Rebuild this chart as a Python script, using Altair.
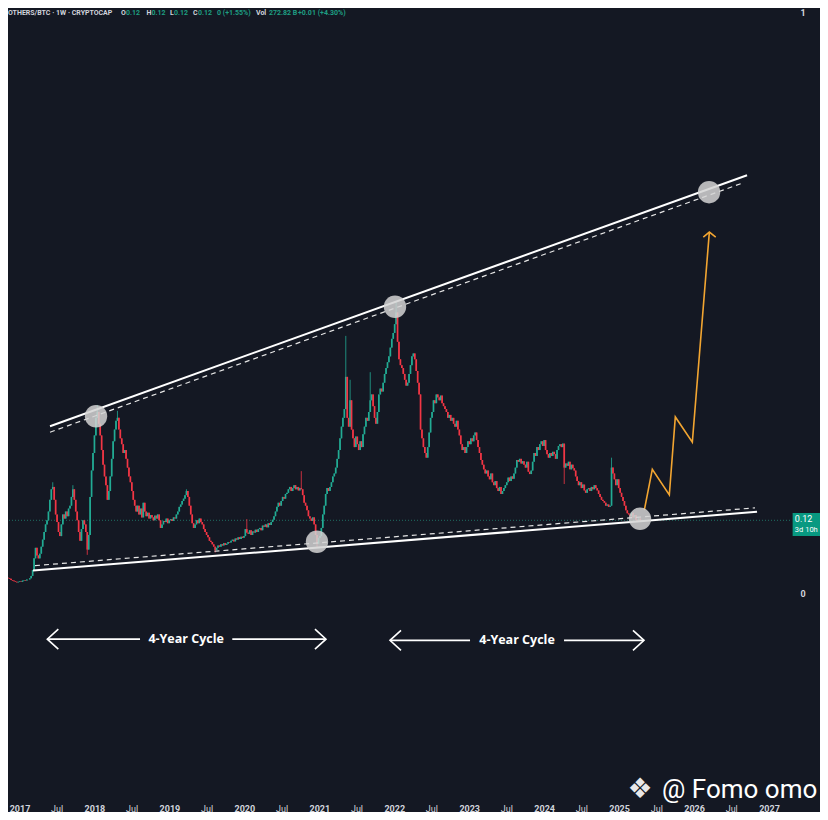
import altair as alt
import numpy as np
import pandas as pd

# ---------------- data ----------------
START = "2016-09-26"          # first weekly candle
FIRST_OPEN = 0.035
closes = [
    0.034, 0.033, 0.031, 0.030, 0.029, 0.027, 0.026, 0.025, 0.023, 0.022,
    0.021, 0.020, 0.019, 0.020, 0.021, 0.020, 0.022, 0.023, 0.022, 0.024,
    0.024, 0.026, 0.030, 0.040, 0.060, 0.078, 0.065, 0.060, 0.068, 0.080,
    0.092, 0.105, 0.118, 0.125, 0.140, 0.160, 0.178, 0.182, 0.160, 0.135,
    0.122, 0.105, 0.098, 0.118, 0.135, 0.128, 0.140, 0.132, 0.145, 0.150,
    0.165, 0.178, 0.160, 0.140, 0.125, 0.105, 0.090, 0.110, 0.125, 0.118,
    0.105, 0.075, 0.100, 0.165, 0.210, 0.240, 0.270, 0.300, 0.310, 0.290,
    0.270, 0.245, 0.220, 0.200, 0.185, 0.160, 0.175, 0.200, 0.230, 0.260,
    0.280, 0.295, 0.300, 0.280, 0.265, 0.255, 0.240, 0.245, 0.230, 0.215,
    0.200, 0.190, 0.175, 0.160, 0.150, 0.140, 0.150, 0.135, 0.145, 0.130,
    0.155, 0.140, 0.132, 0.138, 0.128, 0.134, 0.130, 0.125, 0.133, 0.128,
    0.135, 0.125, 0.112, 0.118, 0.124, 0.122, 0.128, 0.120, 0.125, 0.127,
    0.124, 0.130, 0.128, 0.135, 0.140, 0.148, 0.152, 0.158, 0.162, 0.168,
    0.175, 0.165, 0.150, 0.135, 0.120, 0.112, 0.118, 0.125, 0.120, 0.128,
    0.122, 0.118, 0.110, 0.105, 0.100, 0.096, 0.090, 0.088, 0.084, 0.080,
    0.074, 0.078, 0.082, 0.080, 0.084, 0.082, 0.086, 0.083, 0.085, 0.088,
    0.087, 0.090, 0.092, 0.089, 0.094, 0.092, 0.096, 0.093, 0.097, 0.095,
    0.098, 0.110, 0.104, 0.102, 0.108, 0.100, 0.106, 0.104, 0.109, 0.105,
    0.110, 0.112, 0.108, 0.116, 0.114, 0.118, 0.113, 0.120, 0.117, 0.122,
    0.126, 0.132, 0.140, 0.148, 0.155, 0.150, 0.158, 0.165, 0.162, 0.170,
    0.172, 0.178, 0.182, 0.175, 0.180, 0.185, 0.178, 0.182, 0.176, 0.180,
    0.178, 0.168, 0.155, 0.150, 0.142, 0.132, 0.128, 0.124, 0.130, 0.118,
    0.100, 0.085, 0.095, 0.098, 0.112, 0.135, 0.150, 0.170, 0.180, 0.175,
    0.182, 0.190, 0.200, 0.205, 0.215, 0.230, 0.245, 0.265, 0.285, 0.300,
    0.315, 0.370, 0.300, 0.285, 0.330, 0.280, 0.265, 0.250, 0.268, 0.255,
    0.245, 0.260, 0.250, 0.272, 0.285, 0.300, 0.295, 0.310, 0.330, 0.340,
    0.320, 0.300, 0.290, 0.310, 0.340, 0.350, 0.345, 0.360, 0.375, 0.385,
    0.395, 0.405, 0.420, 0.435, 0.445, 0.460, 0.480, 0.430, 0.400, 0.390,
    0.385, 0.375, 0.365, 0.355, 0.360, 0.375, 0.390, 0.405, 0.410, 0.400,
    0.380, 0.360, 0.340, 0.280, 0.265, 0.250, 0.240, 0.232, 0.250, 0.275,
    0.300, 0.310, 0.330, 0.325, 0.340, 0.335, 0.330, 0.338, 0.325, 0.320,
    0.315, 0.310, 0.300, 0.305, 0.295, 0.300, 0.290, 0.285, 0.295, 0.280,
    0.270, 0.255, 0.245, 0.250, 0.240, 0.250, 0.260, 0.255, 0.265, 0.260,
    0.270, 0.275, 0.262, 0.250, 0.240, 0.228, 0.220, 0.212, 0.205, 0.210,
    0.200, 0.195, 0.205, 0.190, 0.185, 0.192, 0.180, 0.175, 0.182, 0.170,
    0.175, 0.180, 0.185, 0.190, 0.198, 0.192, 0.200, 0.196, 0.205, 0.215,
    0.228, 0.225, 0.230, 0.222, 0.226, 0.220, 0.215, 0.225, 0.208, 0.204,
    0.210, 0.225, 0.240, 0.235, 0.250, 0.245, 0.255, 0.260, 0.252, 0.262,
    0.245, 0.238, 0.232, 0.240, 0.235, 0.242, 0.238, 0.230, 0.245, 0.252,
    0.255, 0.250, 0.256, 0.215, 0.222, 0.218, 0.225, 0.212, 0.220, 0.214,
    0.210, 0.200, 0.192, 0.185, 0.190, 0.180, 0.186, 0.176, 0.172, 0.178,
    0.180, 0.175, 0.182, 0.178, 0.185, 0.180, 0.176, 0.170, 0.165, 0.160,
    0.158, 0.155, 0.150, 0.152, 0.148, 0.150, 0.215, 0.205, 0.195, 0.185,
    0.195, 0.180, 0.172, 0.165, 0.158, 0.150, 0.142, 0.137, 0.135, 0.132,
    0.138, 0.130, 0.134, 0.126, 0.122, 0.128, 0.124, 0.125,
]
# notable wicks (candle index -> extreme)
wick_hi_idx = [37, 51, 68, 82, 130, 172, 210, 241, 244, 258, 276, 426]
wick_hi_val = [0.190, 0.185, 0.322, 0.312, 0.178, 0.127, 0.209, 0.440, 0.365, 0.378, 0.500, 0.232]
wick_lo_idx = [61, 150, 221, 393]
wick_lo_val = [0.066, 0.070, 0.078, 0.187]

LAST_PRICE = 0.125

# trend channel (fractional year, value)
upper_t = [2017.407, 2026.707]
upper_v = [0.2857, 0.7143]
upper_dash_t = [2017.407, 2026.640]
upper_dash_v = [0.2755, 0.7007]
lower_t = [2017.180, 2026.840]
lower_v = [0.0391, 0.1395]
lower_dash_t = [2017.207, 2026.813]
lower_dash_v = [0.0476, 0.1463]

# touch circles
circle_t = [2018.021, 2020.969, 2022.010, 2025.279, 2026.200]
circle_v = [0.3027, 0.0884, 0.4898, 0.1276, 0.6854]

# projected path
proj_t = [2025.336, 2025.443, 2025.670, 2025.750, 2025.977, 2026.204]
proj_v = [0.1423, 0.2121, 0.1684, 0.3015, 0.2585, 0.6173]
head_t = [2026.123, 2026.204, 2026.289]
head_v = [0.6088, 0.6173, 0.6088]

# 4-year cycle arrows
cycle_start = [2017.371, 2021.943]
cycle_end = [2021.089, 2025.332]
cycle_gap_start = [2018.608, 2023.011]
cycle_gap_end = [2019.839, 2024.265]
cycle_v = [-0.078, -0.080]
cycle_label = ["4-Year Cycle", "4-Year Cycle"]

year_ticks = list(range(2017, 2028))
jul_ticks = [y + 181 / 365 for y in range(2017, 2027)]

# ---------------- build tables ----------------
dates = pd.date_range(START, periods=len(closes), freq="7D")
frac = dates.year + (dates.dayofyear - 1) / np.where(dates.is_leap_year, 366.0, 365.0)
c = np.array(closes)
o = np.array([FIRST_OPEN] + closes[:-1])
hi = np.maximum(o, c)
lo = np.minimum(o, c)
for i, v in zip(wick_hi_idx, wick_hi_val):
    hi[i] = max(hi[i], v)
for i, v in zip(wick_lo_idx, wick_lo_val):
    lo[i] = min(lo[i], v)
candles = pd.DataFrame({
    "t": np.asarray(frac, dtype=float), "open": o, "close": c, "high": hi, "low": lo,
    "dir": np.where(c >= o, "up", "down"),
})

def seg_df(ts, vs, g):
    return pd.DataFrame({"t": ts, "v": vs, "g": g, "o": list(range(len(ts)))})

solid_lines = pd.concat([seg_df(upper_t, upper_v, "u"), seg_df(lower_t, lower_v, "l")])
dash_lines = pd.concat([seg_df(upper_dash_t, upper_dash_v, "u"), seg_df(lower_dash_t, lower_dash_v, "l")])
circles = pd.DataFrame({"t": circle_t, "v": circle_v})
proj = seg_df(proj_t, proj_v, "p")
head = seg_df(head_t, head_v, "h")

DX, DY = 0.147, 0.017
parts = []
for k in range(len(cycle_start)):
    s, e, gs, ge, v = cycle_start[k], cycle_end[k], cycle_gap_start[k], cycle_gap_end[k], cycle_v[k]
    parts.append(seg_df([s, gs], [v, v], f"a{k}"))
    parts.append(seg_df([ge, e], [v, v], f"b{k}"))
    parts.append(seg_df([s + DX, s, s + DX], [v + DY, v, v - DY], f"c{k}"))
    parts.append(seg_df([e - DX, e, e - DX], [v + DY, v, v - DY], f"d{k}"))
cycle_lines = pd.concat(parts)
cycle_text = pd.DataFrame({
    "t": [(gs + ge) / 2 for gs, ge in zip(cycle_gap_start, cycle_gap_end)],
    "v": cycle_v, "label": cycle_label,
})

# ---------------- scales / axes ----------------
BG = "#141823"
XS = alt.Scale(domain=[2016.8466, 2027.280], nice=False, zero=False)
YS = alt.Scale(domain=[-0.31, 1.0], nice=False, zero=False)
x_axis = alt.Axis(
    values=sorted(year_ticks + jul_ticks), tickCount=100,
    labelExpr="datum.value % 1 === 0 ? format(datum.value, 'd') : 'Jul'",
    labelFontWeight={"condition": {"test": "datum.value % 1 === 0", "value": "bold"}, "value": "normal"},
    labelColor="#d1d4dc", labelFontSize=9, labelFont="Roboto", labelPadding=29,
    labelOverlap=False, labelFlush=False, labelBound=False,
    domain=False, ticks=False, grid=False, title=None,
)
y_axis = alt.Axis(
    orient="right", values=[0, 1], format="d", labelColor="#d1d4dc", labelFontSize=9,
    labelFont="Roboto", labelFontWeight="bold", labelPadding=10, labelFlush=True,
    domain=False, ticks=False, grid=False, title=None,
)

def X(f):
    return alt.X(f, type="quantitative", scale=XS, axis=x_axis, title=None)

def Y(f):
    return alt.Y(f, type="quantitative", scale=YS, axis=y_axis, title=None)

one = pd.DataFrame({"k": [0]})
col = alt.Color("dir:N", scale=alt.Scale(domain=["up", "down"], range=["#22ab94", "#f23645"]), legend=None)

last_line = alt.Chart(one).mark_rule(color="#1f6e62", strokeDash=[1, 2], strokeWidth=1).encode(y=alt.datum(LAST_PRICE, scale=YS))
wicks = alt.Chart(candles).mark_rule(strokeWidth=0.8).encode(x=X("t"), y=Y("low"), y2="high", color=col)
bodies = alt.Chart(candles).mark_rule(strokeWidth=1.7).encode(x=X("t"), y=Y("open"), y2="close", color=col)

solid = alt.Chart(solid_lines).mark_line(color="#ffffff", strokeWidth=2).encode(
    x=X("t"), y=Y("v"), detail="g:N", order="o:Q")
dashed = alt.Chart(dash_lines).mark_line(color="#e6e6e6", strokeWidth=1.2, strokeDash=[5, 4]).encode(
    x=X("t"), y=Y("v"), detail="g:N", order="o:Q")
proj_line = alt.Chart(proj).mark_line(color="#f2a531", strokeWidth=1.6).encode(x=X("t"), y=Y("v"), order="o:Q")
head_line = alt.Chart(head).mark_line(color="#f2a531", strokeWidth=1.6).encode(x=X("t"), y=Y("v"), order="o:Q")
circ = alt.Chart(circles).mark_circle(size=500, color="#d4d4d4", opacity=0.85).encode(x=X("t"), y=Y("v"))

cyc = alt.Chart(cycle_lines).mark_line(color="#ffffff", strokeWidth=1.6).encode(
    x=X("t"), y=Y("v"), detail="g:N", order="o:Q")
cyc_txt = alt.Chart(cycle_text).mark_text(
    color="#ffffff", font="Open Sans", fontSize=12.5, fontWeight="bold", baseline="middle"
).encode(x=X("t"), y=Y("v"), text="label:N")

# price badge on the price scale
badge = alt.Chart(one).mark_rect(color="#089981").encode(
    x=alt.datum(2027.315, scale=XS), x2=alt.datum(2027.72),
    y=alt.datum(0.1375, scale=YS), y2=alt.datum(0.0982))
badge_t1 = alt.Chart(one).mark_text(color="#ffffff", fontSize=9, font="Roboto", align="left").encode(
    x=alt.datum(2027.345, scale=XS), y=alt.datum(0.1265, scale=YS), text=alt.value("0.12"))
badge_t2 = alt.Chart(one).mark_text(color="#ffffff", fontSize=7.5, font="Roboto", align="left").encode(
    x=alt.datum(2027.345, scale=XS), y=alt.datum(0.1085, scale=YS), text=alt.value("3d 10h"))

# header legend
W, G = "#d1d4dc", "#1e9e82"
header_items = [
    ("OTHERS/BTC · 1W · CRYPTOCAP", W, 0), ("O", W, 113), ("0.12", G, 118),
    ("H", W, 138.5), ("0.12", G, 143.5), ("L", W, 162), ("0.12", G, 166),
    ("C", W, 185), ("0.12", G, 190), ("0 (+1.55%)", G, 209),
    ("Vol", W, 248), ("272.82 B", G, 261), ("+0.01 (+4.30%)", G, 290),
]
header_layers = [
    alt.Chart(one).mark_text(color=cl, fontSize=7, font="Roboto", fontWeight="bold",
                             align="left", baseline="top").encode(
        x=alt.value(px), y=alt.value(1), text=alt.value(tx))
    for tx, cl, px in header_items
]

wm_logo = alt.Chart(one).mark_text(color="#e8e8e8", fontSize=28, font="DejaVu Sans", baseline="middle").encode(
    x=alt.value(632), y=alt.value(782), text=alt.value("❖"))
wm_text = alt.Chart(one).mark_text(color="#ffffff", fontSize=26, font="Roboto", align="left", baseline="middle").encode(
    x=alt.value(654), y=alt.value(782), text=alt.value("@ Fomo omo"))

chart = alt.layer(
    last_line, wicks, bodies, dashed, solid, proj_line, head_line, circ, cyc, cyc_txt,
    badge, badge_t1, badge_t2, *header_layers, wm_logo, wm_text,
).properties(
    width=782, height=767,
    padding={"left": 0, "top": 0, "right": 30, "bottom": 37},
    autosize=alt.AutoSizeParams(type="none"),
    background=BG,
).configure_view(stroke=None)

chart.save("out.html", embed_options={"renderer": "svg", "actions": False})
